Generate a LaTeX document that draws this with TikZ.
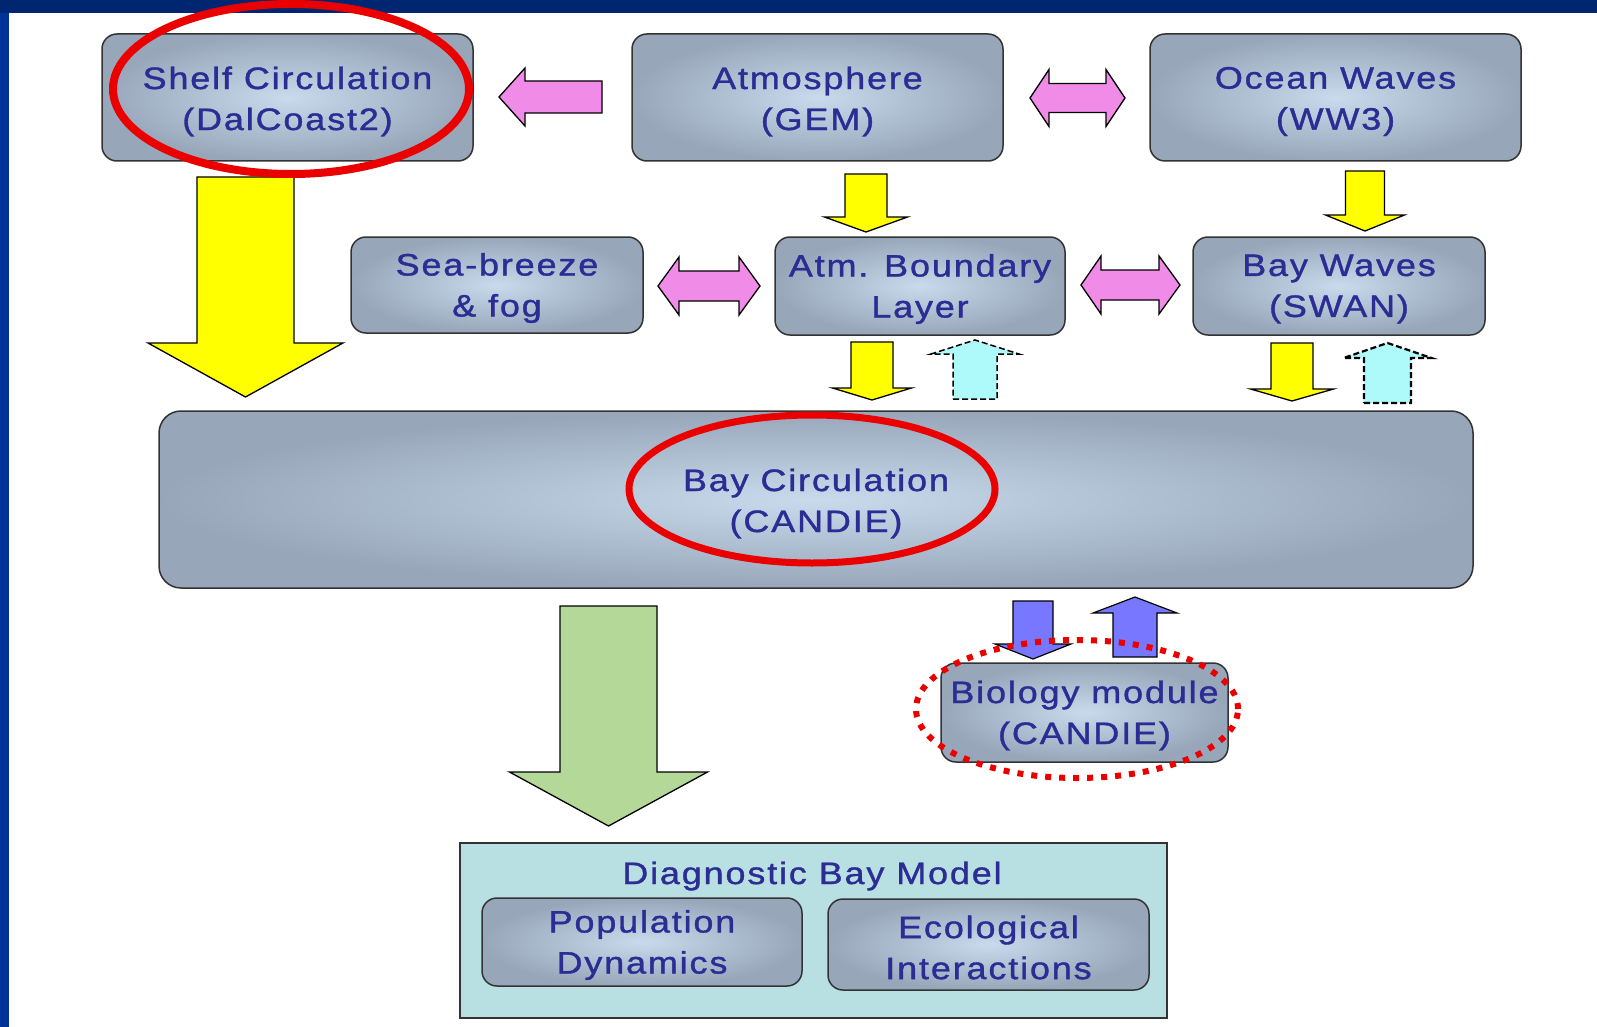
\documentclass[tikz,border=0pt]{standalone}
\usepackage{fontspec}
\newfontfamily\boxfont{Liberation Sans}[FakeStretch=1.16,LetterSpace=6,FakeBold=1.2]
\definecolor{navy}{RGB}{0,38,114}
\definecolor{frameblue}{RGB}{0,51,153}
\definecolor{boxout}{RGB}{152,166,186}
\definecolor{boxin}{RGB}{200,218,236}
\definecolor{txt}{RGB}{44,44,148}
\definecolor{pinkarr}{RGB}{240,140,232}
\definecolor{yelarr}{RGB}{255,255,0}
\definecolor{cyanarr}{RGB}{174,250,250}
\definecolor{bluearr}{RGB}{119,119,255}
\definecolor{greenarr}{RGB}{179,216,152}
\definecolor{diagfill}{RGB}{184,224,226}
\definecolor{redring}{RGB}{235,0,0}
\newcommand{\blockarrV}[7]{%
  \draw[#7] ({#1-#2},#4) -- ({#1+#2},#4) -- ({#1+#2},#5) -- ({#1+#3},#5) -- (#1,#6) -- ({#1-#3},#5) -- ({#1-#2},#5) -- cycle;}
\newcommand{\blockarrD}[8]{%
  \draw[#8] (#4,#1) -- (#5,{#1-#3}) -- (#5,{#1-#2}) -- (#6,{#1-#2}) -- (#6,{#1-#3}) -- (#7,#1) -- (#6,{#1+#3}) -- (#6,{#1+#2}) -- (#5,{#1+#2}) -- (#5,{#1+#3}) -- cycle;}
\newcommand{\blockarrL}[7]{%
  \draw[#7] (#4,#1) -- (#5,{#1-#3}) -- (#5,{#1-#2}) -- (#6,{#1-#2}) -- (#6,{#1+#2}) -- (#5,{#1+#2}) -- (#5,{#1+#3}) -- cycle;}
\tikzset{
  mbox/.style={draw=black!80, line width=1.5pt, rounded corners=15pt, shading=radial,
    inner color=boxin, outer color=boxout, inner sep=0pt},
  lbl/.style={inner sep=0pt, align=center, text=txt, font=\boxfont\fontsize{31}{41}\selectfont},
  yel/.style={fill=yelarr, draw=black, line width=1.3pt},
  pnk/.style={fill=pinkarr, draw=black, line width=1.3pt},
  cyn/.style={fill=cyanarr, draw=black, line width=1.5pt, dash pattern=on 6pt off 3pt},
  blu/.style={fill=bluearr, draw=black, line width=1.2pt},
  grn/.style={fill=greenarr, draw=black, line width=1.3pt},
  ring/.style={draw=redring, line width=8pt},
  dotring/.style={draw=redring, line width=6pt, dash pattern=on 6pt off 8pt}
}
\begin{document}
\begin{tikzpicture}[x=1pt,y=-1pt]
\useasboundingbox (0,0) rectangle (1597,1027);
\fill[white] (0,0) rectangle (1597,1027);
\fill[frameblue] (0,0) rectangle (9,1027);
\fill[navy] (0,0) rectangle (1597,13);

% boxes
\node[mbox, minimum width=371pt, minimum height=127pt] (shelf) at (287.5,97.5) {};
\node[mbox, minimum width=371pt, minimum height=127pt] (atm) at (817.5,97.5) {};
\node[mbox, minimum width=371pt, minimum height=127pt] (ocean) at (1335.5,97.5) {};
\node[mbox, minimum width=292pt, minimum height=96pt] (sea) at (497,285) {};
\node[mbox, minimum width=290pt, minimum height=98pt] (abl) at (920,286) {};
\node[mbox, minimum width=292pt, minimum height=98pt] (bw) at (1339,286) {};
\node[mbox, rounded corners=22pt, minimum width=1314pt, minimum height=177pt] (bay) at (816,499.5) {};
\node[mbox, minimum width=287pt, minimum height=99pt] (bio) at (1084.5,712.5) {};
\node[draw=black!80, line width=1.5pt, fill=diagfill, minimum width=707pt, minimum height=175pt, inner sep=0pt] (diag) at (813.5,930.5) {};
\node[mbox, minimum width=320pt, minimum height=88pt] (pop) at (642,942) {};
\node[mbox, minimum width=321pt, minimum height=91pt] (eco) at (988.5,944.5) {};

% labels
\node[lbl] (shelf-t) at ([yshift=-4pt]shelf.center) {Shelf Circulation\\(DalCoast2)};
\node[lbl] (atm-t) at ([yshift=-4pt]atm.center) {Atmosphere\\(GEM)};
\node[lbl] (ocean-t) at ([yshift=-4pt]ocean.center) {Ocean Waves\\(WW3)};
\node[lbl] (sea-t) at ([yshift=-3pt]sea.center) {Sea-breeze\\\& fog};
\node[lbl] (abl-t) at ([yshift=-3pt]abl.center) {Atm. Boundary\\Layer};
\node[lbl] (bw-t) at ([yshift=-3pt]bw.center) {Bay Waves\\(SWAN)};
\node[lbl] (bay-t) at ([yshift=-4pt]bay.center) {Bay Circulation\\(CANDIE)};
\node[lbl] (bio-t) at ([yshift=-3pt]bio.center) {Biology module\\(CANDIE)};
\node[lbl] (diag-t) at (812,876) {Diagnostic Bay Model};
\node[lbl] (pop-t) at ([yshift=-3pt]pop.center) {Population\\Dynamics};
\node[lbl] (eco-t) at ([yshift=-3pt]eco.center) {Ecological\\Interactions};

% arrows
\blockarrV{245.5}{48.5}{97.5}{177}{343}{397}{yel}
\blockarrV{608.5}{48.5}{99}{606}{772}{826}{grn}
\blockarrV{866}{21}{41.5}{174}{217}{232}{yel}
\blockarrV{1365}{19.5}{39.5}{171}{215}{231}{yel}
\blockarrV{872}{21}{39.5}{342}{388}{400}{yel}
\blockarrV{1292}{21}{41.5}{343}{389}{401}{yel}
\blockarrV{975}{22}{44}{399}{354}{340}{cyn}
\blockarrV{1387.5}{23.5}{44}{403}{358}{343}{cyn,line width=2.2pt}
\blockarrV{1033}{20}{38}{601}{644}{659}{blu}
\blockarrV{1135}{22}{42}{657}{613}{597}{blu}
\blockarrL{97}{16}{29}{499}{525}{602}{pnk}
\blockarrD{98}{14.5}{28.5}{1030}{1049}{1106}{1125}{pnk}
\blockarrD{286}{15}{29}{658}{679}{739}{760}{pnk}
\blockarrD{285}{15}{29}{1081}{1101}{1159}{1180}{pnk}

% red rings
\draw[ring] (291,89) ellipse [x radius=178pt, y radius=85pt];
\draw[ring, line width=7pt] (812,489) ellipse [x radius=183pt, y radius=74pt];
\draw[dotring] (1077,709) ellipse [x radius=161pt, y radius=69pt];
\end{tikzpicture}
\end{document}
